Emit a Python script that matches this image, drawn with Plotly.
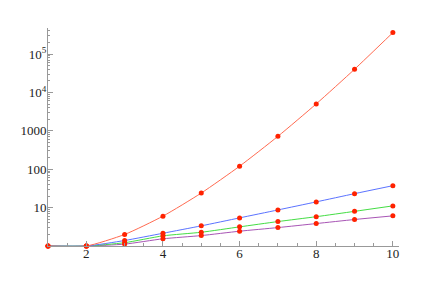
import plotly.graph_objects as go

x = [1, 2, 3, 4, 5, 6, 7, 8, 9, 10]
red_vals = [1, 1, 2, 6, 24, 120, 720, 5040, 40320, 362880]
blue_vals = [1, 1, 1.39, 2.15, 3.35, 5.4, 8.7, 14.1, 23.1, 37.3]
green_vals = [1, 1, 1.22, 1.84, 2.28, 3.15, 4.33, 5.8, 8.0, 11.1]
purple_vals = [1, 1, 1.12, 1.54, 1.87, 2.43, 3.02, 3.84, 4.9, 6.1]

y_tickvals = [10, 100, 1000, 1e4, 1e5]
y_ticktext = ["10", "100", "1000", "10<sup>4</sup>", "10<sup>5</sup>"]
y_minor = [m * 10 ** d for d in range(0, 6) for m in range(2, 10)]
x_tickvals = [2, 4, 6, 8, 10]
x_minor = [v / 2 for v in range(2, 21)]

series = [
    (purple_vals, "#A855B5"),
    (green_vals, "#44DD44"),
    (blue_vals, "#5B73FF"),
    (red_vals, "#FF6A50"),
]

fig = go.Figure()
for vals, col in series:
    fig.add_trace(go.Scatter(
        x=x, y=vals, mode="lines+markers",
        line=dict(color=col, width=1, shape="spline", smoothing=0.6),
        marker=dict(color="#FF2200", size=5),
        cliponaxis=False, showlegend=False,
    ))

axis_font = dict(family="Liberation Serif", size=13, color="#222")
fig.update_layout(
    width=415, height=285,
    margin=dict(l=36, r=24, t=20, b=47),
    paper_bgcolor="white", plot_bgcolor="white",
    font=dict(family="Liberation Serif"),
    xaxis=dict(
        range=[1, 10.16], showgrid=False, zeroline=False,
        showline=True, linecolor="#999", linewidth=1,
        ticks="inside", ticklen=5, tickcolor="#999",
        tickmode="array", tickvals=x_tickvals, tickfont=axis_font,
        ticklabelstandoff=-5,
        minor=dict(tickmode="array", tickvals=x_minor, ticks="inside", ticklen=3, tickcolor="#999", showgrid=False),
    ),
    yaxis=dict(
        type="log", range=[0, 5.68], showgrid=False, zeroline=False,
        showline=True, linecolor="#999", linewidth=1,
        ticks="inside", ticklen=5, tickcolor="#999",
        tickmode="array", tickvals=y_tickvals, ticktext=y_ticktext, tickfont=axis_font,
        ticklabelstandoff=-2,
        minor=dict(tickmode="array", tickvals=y_minor, ticks="inside", ticklen=2, tickcolor="#999", showgrid=False),
    ),
)

fig.write_html("out.html")
